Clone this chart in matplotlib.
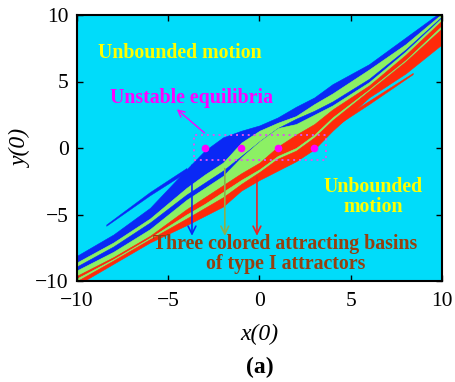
import matplotlib
matplotlib.use("Agg")
import matplotlib.pyplot as plt

plt.rcParams["font.family"] = ["Liberation Serif", "DejaVu Serif"]

# ---------------------------------------------------------------------------
# Colours
# ---------------------------------------------------------------------------
CYAN = "#00DCFA"
BLUE = "#0A28F5"
GREEN = "#8CF064"
RED = "#FF2A0A"
YELLOW = "#FFFF00"
MAGENTA = "#FF00FF"
RECT_COLOR = "#DD55EE"
BROWN = "#96400F"

# ---------------------------------------------------------------------------
# Basin stripe boundaries, top to bottom
# ---------------------------------------------------------------------------
x_grid = [-10, -8, -6, -4, -3, -2, -1, 0, 1, 2, 3, 4, 6, 8, 10]
top_edge = [-8.1, -6.5, -4.5, -1.6, -0.2, 0.8, 1.3, 1.7, 2.3, 3.1, 3.8, 4.8, 6.3, 8.3, 10.3]
blue_green = [-8.6, -7.1, -5.3, -3.0, -2.0, -1.1, 0.4, 1.3, 1.9, 2.4, 3.3, 4.1, 5.9, 7.8, 10.1]
thin_blue_top = [-8.9, -7.4, -5.6, -3.5, -2.6, -1.7, -0.6, 0.5, 1.5, 2.2, 2.8, 3.5, 5.2, 7.4, 9.9]
thin_blue_bot = [-9.2, -7.8, -6.1, -3.9, -3.0, -2.1, -0.7, 0.5, 1.5, 1.8, 2.5, 3.2, 4.95, 7.25, 9.8]
green_red = [-9.6, -8.2, -6.6, -4.6, -3.7, -2.8, -1.9, -1.1, 0.1, 1.0, 1.8, 2.9, 4.7, 7.0, 9.6]
thin_green_top = [-9.8, -8.35, -6.75, -5.0, -4.2, -3.3, -2.4, -1.6, -0.6, 0.0, 1.0, 2.3, 4.4, 6.6, 9.2]
thin_green_bot = [-10.0, -8.45, -6.85, -5.3, -4.5, -3.7, -2.7, -1.8, -0.8, -0.2, 0.8, 2.1, 4.3, 6.5, 9.0]
bottom_edge = [-10.3, -8.7, -7.1, -5.8, -5.1, -4.4, -3.2, -2.4, -1.7, -1.0, -0.1, 1.3, 3.8, 5.6, 7.8]

stripe_colors = [BLUE, GREEN, BLUE, GREEN, RED, GREEN, RED]

# thin slivers sticking out of the main band
left_sliver_x = [-8.4, -6.0, -4.0]
left_sliver_top = [-5.75, -3.3, -1.5]
left_sliver_bot = [-5.85, -3.55, -1.8]
right_sliver_x = [4.0, 6.0, 8.4]
right_sliver_top = [1.8, 3.55, 5.65]
right_sliver_bot = [1.5, 3.3, 5.55]

# unstable equilibria
eq_x = [-3, -1, 1, 3]
eq_y = [0, 0, 0, 0]

# dotted box around the equilibria
box_x = [-3.6, 3.64]
box_y = [-0.87, 0.94]

# arrows to the three basins
basin_arrow_x = [-3.7, -1.9, -0.14]
basin_arrow_y0 = [-1.3, -1.55, -2.2]
basin_arrow_colors = [BLUE, "#8FAE4A", "#EE2222"]
ticks = [-10, -5, 0, 5, 10]

# ---------------------------------------------------------------------------
# Figure
# ---------------------------------------------------------------------------
fig = plt.figure(figsize=(4.56, 3.82), dpi=100)
ax = fig.add_axes([77 / 456, 1 - 281 / 382, 365 / 456, 266 / 382])
ax.set_facecolor(CYAN)

bounds = [top_edge, blue_green, thin_blue_top, thin_blue_bot,
          green_red, thin_green_top, thin_green_bot, bottom_edge]
for i, color in enumerate(stripe_colors):
    ax.fill_between(x_grid, bounds[i + 1], bounds[i], color=color,
                    lw=0.4, edgecolor=color, zorder=1)

ax.fill_between(left_sliver_x, left_sliver_bot, left_sliver_top,
                color=BLUE, lw=0.3, zorder=1)
ax.fill_between(right_sliver_x, right_sliver_bot, right_sliver_top,
                color=RED, lw=0.3, zorder=1)

# dotted box + equilibria
ax.plot([box_x[0], box_x[1], box_x[1], box_x[0], box_x[0]],
        [box_y[0], box_y[0], box_y[1], box_y[1], box_y[0]],
        ls=(0, (1, 2)), color=RECT_COLOR, lw=1.4, zorder=3)
ax.plot(eq_x, eq_y, "o", color=MAGENTA, ms=5.5, mec="none", zorder=4)

ax.annotate("", xy=(-4.65, 3.05), xytext=(-2.9, 1.0),
            arrowprops=dict(arrowstyle="->", color=MAGENTA, lw=1.0,
                            mutation_scale=12), zorder=4)

for bx, by0, bc in zip(basin_arrow_x, basin_arrow_y0, basin_arrow_colors):
    ax.annotate("", xy=(bx, -6.6), xytext=(bx, by0),
                arrowprops=dict(arrowstyle="->", color=bc, lw=1.2,
                                mutation_scale=14, shrinkA=0, shrinkB=0),
                zorder=4)

# labels inside the plot
ax.text(-8.85, 7.13, "Unbounded motion", color=YELLOW, fontsize=14.3,
        fontweight="bold", ha="left", va="center", zorder=5)
ax.text(-8.19, 3.74, "Unstable equilibria", color=MAGENTA, fontsize=14.3,
        fontweight="bold", ha="left", va="center", zorder=5)
ax.text(6.22, -3.7, "Unbounded\nmotion", color=YELLOW, fontsize=14.3,
        fontweight="bold", ha="center", va="center", linespacing=1.0, zorder=5)
ax.text(1.42, -8.0, "Three colored attracting basins\nof type I attractors",
        color=BROWN, fontsize=14.3, fontweight="bold", ha="center",
        va="center", linespacing=1.0, zorder=5)

ax.set_xlim(-10, 10)
ax.set_ylim(-10, 10)
ax.set_xticks(ticks)
ax.set_yticks(ticks)
ax.tick_params(direction="in", top=True, right=True, length=4, width=1,
               labelsize=15.5)
ax.tick_params(axis="x", pad=8)
ax.tick_params(axis="y", pad=6)
for spine in ax.spines.values():
    spine.set_linewidth(1.5)

ax.set_xlabel("x(0)", fontsize=17, fontstyle="italic", labelpad=9)
ax.set_ylabel("y(0)", fontsize=17, fontstyle="italic", labelpad=2)
fig.text(260 / 456, 1 - 367 / 382, "(a)", fontsize=17, fontweight="bold",
         ha="center", va="center")

fig.savefig("out.png", dpi=100)
